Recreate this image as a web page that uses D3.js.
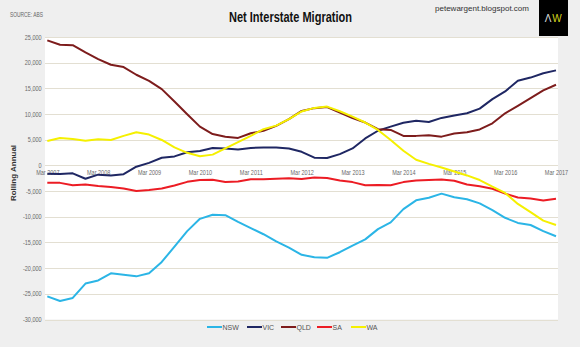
<!DOCTYPE html>
<html>
<head>
<meta charset="utf-8">
<script src="https://cdn.jsdelivr.net/npm/d3@7"></script>
<style>
  body { margin: 0; background: #efefef; }
  svg { display: block; font-family: "Liberation Sans", Arial, sans-serif; }
</style>
</head>
<body>
<div id="chart"></div>
<script>
let width = 580,
    height = 347;

// year labels on the x axis, one every 4 quarters
let yearLabels = ["Mar 2007", "Mar 2008", "Mar 2009", "Mar 2010", "Mar 2011", "Mar 2012",
                  "Mar 2013", "Mar 2014", "Mar 2015", "Mar 2016", "Mar 2017"];
let yTicks = [25000, 20000, 15000, 10000, 5000, 0, -5000, -10000, -15000, -20000, -25000, -30000];

// rolling annual net interstate migration, quarterly from Mar 2007 to Mar 2017
let nsw = [-25500, -26400, -25800, -23000, -22400, -21000, -21300, -21600, -21000, -18800,
           -15800, -12800, -10400, -9600, -9700, -11000, -12200, -13400, -14800, -16000,
           -17400, -17900, -18000, -16900, -15600, -14400, -12400, -11100, -8500, -6800,
           -6300, -5500, -6200, -6600, -7400, -8700, -10200, -11200, -11600, -12800, -13800];
let vic = [-1600, -1650, -1550, -2600, -1800, -1950, -1700, -250, 500, 1500,
           1750, 2550, 2800, 3400, 3300, 3100, 3400, 3500, 3500, 3300,
           2650, 1500, 1450, 2200, 3300, 5250, 6750, 7550, 8300, 8700,
           8450, 9250, 9700, 10150, 11050, 12900, 14400, 16500, 17100, 17950, 18500];
let qld = [24350, 23500, 23400, 22000, 20700, 19600, 19150, 17650, 16450, 14850,
           12450, 9950, 7550, 6100, 5600, 5350, 6250, 6750, 7700, 9000,
           10600, 11150, 11350, 10300, 9200, 8350, 7050, 6900, 5750, 5750,
           5850, 5600, 6200, 6450, 7000, 8200, 10150, 11600, 13100, 14600, 15700];
let sa = [-3400, -3400, -3850, -3700, -4000, -4200, -4500, -5000, -4800, -4500,
          -3900, -3200, -2850, -2800, -3250, -3150, -2700, -2700, -2600, -2500,
          -2650, -2350, -2450, -2950, -3250, -3850, -3800, -3850, -3250, -2950,
          -2850, -2750, -3000, -3700, -4050, -4550, -5500, -6250, -6450, -6850, -6500];
let wa = [4750, 5350, 5150, 4800, 5100, 4950, 5750, 6450, 6000, 4950,
          3500, 2450, 1800, 2100, 3300, 4550, 5750, 7050, 7750, 9000,
          10500, 11200, 11450, 10550, 9500, 8350, 6900, 4950, 2850, 1100,
          300, -400, -1200, -1950, -2850, -4150, -5350, -7500, -9100, -10750, -11600];

let seriesNames = ["NSW", "VIC", "QLD", "SA", "WA"];
let seriesColors = ["#2bb5e6", "#1f2763", "#7d1c1c", "#ec1c24", "#f5f000"];
let seriesData = [nsw, vic, qld, sa, wa];

let plotLeft = 45, plotRight = 558, plotTop = 37, plotBottom = 319.5;

let svg = d3.select("#chart")
    .append("svg")
    .attr("width", width)
    .attr("height", height);

// header strip and plot background
svg.append("rect")
    .attr("x", 0).attr("y", 0)
    .attr("width", width).attr("height", height)
    .attr("fill", "#efefef");
svg.append("rect")
    .attr("x", plotLeft).attr("y", plotTop)
    .attr("width", plotRight - plotLeft).attr("height", plotBottom - plotTop)
    .attr("fill", "#ffffff");

let x = d3.scaleLinear()
    .domain([0, nsw.length - 1])
    .range([47.3, 556]);

let y = d3.scaleLinear()
    .domain([-30000, 25000])
    .range([plotBottom, plotTop]);

// gridlines
svg.append("g")
    .selectAll("line")
    .data(yTicks)
    .enter()
    .append("line")
    .attr("x1", plotLeft)
    .attr("x2", plotRight)
    .attr("y1", d => Math.round(y(d)) + 0.5)
    .attr("y2", d => Math.round(y(d)) + 0.5)
    .style("stroke", "#e3dfd2")
    .style("stroke-width", 1);

// y axis labels (squeezed a little, the source font is narrow)
let yAxis = d3.axisLeft(y)
    .tickValues(yTicks)
    .tickSize(0)
    .tickPadding(4)
    .tickFormat(d => d3.format(",")(d).replace("−", "-"));

let yG = svg.append("g")
    .attr("transform", "translate(" + plotLeft + ",0)")
    .call(yAxis);
yG.select(".domain").remove();
yG.selectAll("text")
    .attr("transform", "scale(0.85,1)")
    .style("font-size", "6.5px")
    .style("fill", "#6a6a6a");

// x axis labels sit just under the zero line
let xAxis = d3.axisBottom(x)
    .tickValues(yearLabels.map((d, i) => i * 4))
    .tickSize(0)
    .tickPadding(5)
    .tickFormat((d, i) => yearLabels[i]);

let xG = svg.append("g")
    .attr("transform", "translate(0," + y(0) + ")")
    .call(xAxis);
xG.select(".domain").remove();
xG.selectAll("text")
    .attr("transform", "scale(0.85,1)")
    .style("font-size", "6.5px")
    .style("fill", "#6a6a6a");

// series lines
let line = d3.line()
    .x((d, i) => x(i))
    .y(d => y(d));

svg.append("g")
    .selectAll("path")
    .data(seriesData)
    .enter()
    .append("path")
    .attr("d", line)
    .style("fill", "none")
    .style("stroke", (d, i) => seriesColors[i])
    .style("stroke-width", 2)
    .style("stroke-linejoin", "round");

// header texts
svg.append("text")
    .attr("x", 10).attr("y", 17)
    .attr("textLength", 33)
    .attr("lengthAdjust", "spacingAndGlyphs")
    .style("font-size", "6.5px")
    .style("fill", "#666")
    .text("SOURCE: ABS");

svg.append("text")
    .attr("x", 229).attr("y", 22)
    .attr("textLength", 123)
    .attr("lengthAdjust", "spacingAndGlyphs")
    .style("font-size", "15px")
    .style("font-weight", "bold")
    .style("fill", "#111")
    .text("Net Interstate Migration");

svg.append("text")
    .attr("x", 435).attr("y", 11)
    .attr("textLength", 94)
    .attr("lengthAdjust", "spacingAndGlyphs")
    .style("font-size", "7.5px")
    .style("fill", "#333")
    .text("petewargent.blogspot.com");

// AW logo box
svg.append("rect")
    .attr("x", 539).attr("y", 0)
    .attr("width", 29).attr("height", 36)
    .attr("fill", "#000");
svg.append("text")
    .attr("x", 548).attr("y", 22)
    .attr("text-anchor", "middle")
    .style("font-size", "10px")
    .style("fill", "#dddddd")
    .text("Λ");
svg.append("text")
    .attr("x", 557).attr("y", 22)
    .attr("text-anchor", "middle")
    .style("font-size", "10px")
    .style("fill", "#d4d41c")
    .text("W");

// y axis title
svg.append("text")
    .attr("transform", "translate(16,173) rotate(-90)")
    .attr("text-anchor", "middle")
    .style("font-size", "8px")
    .style("font-weight", "bold")
    .style("fill", "#333")
    .text("Rolling Annual");

// legend
let legendX = [207, 247, 281, 317, 351];
let legend = svg.append("g")
    .selectAll("g")
    .data(seriesNames)
    .enter()
    .append("g")
    .attr("transform", (d, i) => "translate(" + legendX[i] + ",327)");
legend.append("line")
    .attr("x1", 0).attr("x2", 15)
    .style("stroke", (d, i) => seriesColors[i])
    .style("stroke-width", 2);
legend.append("text")
    .attr("x", 15.5).attr("y", 2.5)
    .style("font-size", "7px")
    .style("fill", "#555")
    .text(d => d);
</script>
</body>
</html>
